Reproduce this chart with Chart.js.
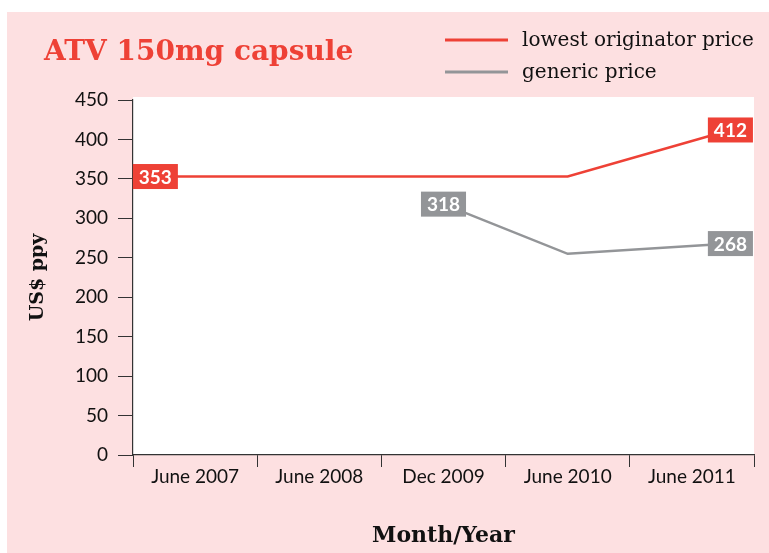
<!DOCTYPE html>
<html>
<head>
<meta charset="utf-8">
<script src="https://cdn.jsdelivr.net/npm/chart.js@4.4.1/dist/chart.umd.min.js"></script>
<style>
  body { margin: 0; background: #fff; }
  #wrap { position: absolute; left: 7px; top: 12px; width: 762px; height: 541px; background: #fde0e1; }
</style>
</head>
<body>
<div id="wrap"><canvas id="priceChart"></canvas></div>
<script>
const chartTitle = 'ATV 150mg capsule';
const categories = ['June 2007', 'June 2008', 'Dec 2009', 'June 2010', 'June 2011'];
// where each month sits on the x axis (first and last pushed out toward the ends, as in the source)
const pointPos = [-0.32, 1, 2, 3, 4.31];
const originatorPrice = [353, 353, 353, 353, 412];
const genericPrice = [null, null, 318, 255, 268];
const yTicks = [0, 50, 100, 150, 200, 250, 300, 350, 400, 450];

const red = '#ee4136';
const grey = '#939598';
const axisColor = '#333';

function toPoints(values) {
    return values
        .map((v, i) => ({ x: pointPos[i], y: v }))
        .filter((p) => p.y !== null);
}

const plotFill = {
    id: 'plotFill',
    beforeDraw(chart) {
        const { ctx, chartArea: a } = chart;
        ctx.save();
        ctx.fillStyle = '#fff';
        ctx.fillRect(a.left, a.top - 3, a.right - a.left, a.bottom - a.top + 3);
        ctx.restore();
    }
};

const endLabels = {
    id: 'endLabels',
    afterDatasetsDraw(chart) {
        const ctx = chart.ctx;
        chart.data.datasets.forEach((ds, i) => {
            const pts = chart.getDatasetMeta(i).data;
            [0, pts.length - 1].forEach((j) => {
                const p = pts[j];
                const text = String(ds.data[j].y);
                ctx.save();
                ctx.font = 'bold 19px Lato';
                const w = ctx.measureText(text).width + 12;
                ctx.fillStyle = ds.borderColor;
                ctx.fillRect(p.x - w / 2, p.y - 12.5, w, 25);
                ctx.fillStyle = '#fff';
                ctx.textAlign = 'center';
                ctx.textBaseline = 'middle';
                ctx.fillText(text, p.x, p.y + 1);
                ctx.restore();
            });
        });
    }
};

const header = {
    id: 'header',
    afterDraw(chart) {
        const ctx = chart.ctx;
        ctx.save();
        ctx.textBaseline = 'middle';
        ctx.font = 'bold 28px "DejaVu Serif"';
        ctx.fillStyle = red;
        ctx.fillText(chartTitle, 37, 41);
        ctx.font = '20px "DejaVu Serif"';
        chart.data.datasets.forEach((ds, i) => {
            const y = 28 + i * 32;
            ctx.strokeStyle = ds.borderColor;
            ctx.lineWidth = 3;
            ctx.beginPath();
            ctx.moveTo(438, y);
            ctx.lineTo(501, y);
            ctx.stroke();
            ctx.fillStyle = '#111';
            ctx.fillText(ds.label, 515, y + 1);
        });
        ctx.restore();
    }
};

const ctx = document.getElementById('priceChart');
const priceChart = new Chart(ctx, {
    type: 'line',
    data: {
        labels: categories,
        datasets: [
            {
                label: 'lowest originator price',
                data: toPoints(originatorPrice),
                xAxisID: 'xd',
                borderColor: red,
                borderWidth: 2.5,
                pointRadius: 0,
                fill: false,
            },
            {
                label: 'generic price',
                data: toPoints(genericPrice),
                xAxisID: 'xd',
                borderColor: grey,
                borderWidth: 2.5,
                pointRadius: 0,
                fill: false,
            },
        ],
    },
    options: {
        responsive: true,
        maintainAspectRatio: false,
        animation: false,
        layout: {
            padding: { top: 88, right: 15, left: 0, bottom: 0 }
        },
        plugins: {
            legend: { display: false },
            tooltip: { enabled: false },
        },
        scales: {
            xd: {
                type: 'linear',
                display: false,
                min: -0.5,
                max: categories.length - 0.5,
            },
            x: {
                type: 'category',
                offset: true,
                grid: {
                    offset: true,
                    drawOnChartArea: false,
                    tickLength: 12,
                    color: axisColor,
                },
                border: { color: axisColor, width: 1.2 },
                ticks: {
                    color: '#111',
                    padding: 0,
                    font: { family: 'Lato', size: 19, lineHeight: 1 },
                },
                title: {
                    display: true,
                    text: 'Month/Year',
                    color: '#111',
                    padding: { top: 40, bottom: 4 },
                    font: { family: 'DejaVu Serif', size: 22, weight: 'bold', lineHeight: 1.2 },
                },
                afterFit(axis) { axis.height = 98; },
            },
            y: {
                min: yTicks[0],
                max: yTicks[yTicks.length - 1],
                afterBuildTicks(axis) { axis.ticks = yTicks.map((v) => ({ value: v })); },
                grid: {
                    drawOnChartArea: false,
                    tickLength: 15,
                    color: axisColor,
                },
                border: { color: axisColor, width: 1.2 },
                ticks: {
                    color: '#111',
                    padding: 10,
                    font: { family: 'Lato', size: 19 },
                },
                title: {
                    display: true,
                    text: 'US$ ppy',
                    color: '#111',
                    padding: { top: 20, bottom: 4 },
                    font: { family: 'DejaVu Serif', size: 19, weight: 'bold', lineHeight: 1.2 },
                },
                afterFit(axis) { axis.width = 126; },
            },
        },
    },
    plugins: [plotFill, endLabels, header],
});
</script>
</body>
</html>
